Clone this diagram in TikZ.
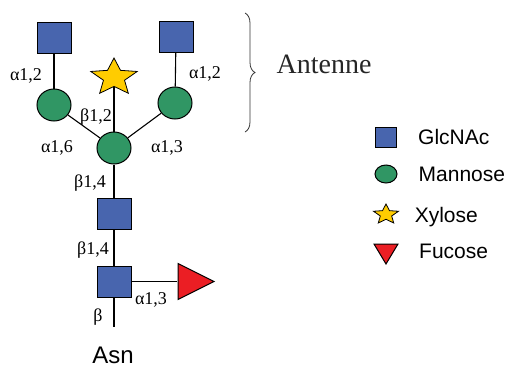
\documentclass[tikz,border=0pt]{standalone}
\usepackage{fontspec}
\setmainfont{Liberation Serif}
\newfontfamily\legendfont{Liberation Sans}
\usepackage{tikz}
\usetikzlibrary{shapes.geometric, positioning, decorations.pathreplacing}
\definecolor{glcblue}{RGB}{72,101,174}
\definecolor{mangreen}{RGB}{48,150,100}
\definecolor{xylyellow}{RGB}{255,204,0}
\definecolor{fucred}{RGB}{235,30,36}

\tikzset{
    glcnac/.style={draw=black, fill=glcblue, line width=1pt, inner sep=0pt,
        minimum width=34pt, minimum height=31pt},
    mannose/.style={ellipse, draw=black, fill=mangreen, line width=1pt, inner sep=0pt,
        minimum width=34pt, minimum height=32pt},
    xylose/.style={star, star points=5, star point ratio=2.2, draw=black, fill=xylyellow,
        line width=0.8pt, inner sep=0pt, xscale=1.25, transform shape},
    fucose/.style={isosceles triangle, isosceles triangle stretches, draw=black,
        fill=fucred, line width=1pt, inner sep=0pt},
    bond/.style={line width=1.1pt},
    linklbl/.style={font=\fontsize{18}{20}\selectfont, inner sep=0pt,
        text height=12pt, text depth=0pt},
    legtext/.style={font=\legendfont\fontsize{21}{24}\selectfont, inner sep=0pt,
        text height=15pt, text depth=0pt}
}

\begin{document}
\begin{tikzpicture}[x=1pt, y=-1pt]
\useasboundingbox (0,0) rectangle (509,368);

% residues
\node[glcnac] (gnA) at (54,38) {};
\node[glcnac] (gnB) at (176,37) {};
\node[mannose] (manA) at (54,105) {};
\node[mannose] (manB) at (175,103) {};
\node[xylose, minimum size=39pt] (xyl) at (114,77.5) {};
\node[mannose] (manC) at (114,148) {};
\node[glcnac] (gnC) at (114,213.5) {};
\node[glcnac] (gnD) at (114,281.5) {};
\node[fucose, minimum width=36pt, minimum height=36pt, anchor=lower side] (fuc) at (177.5,281.5) {};
\coordinate (asnend) at (114,327);

% bonds
\draw[bond] (gnA) -- (manA);
\draw[bond] (gnB) -- (manB);
\draw[bond] (manA) -- (manC);
\draw[bond] (manB) -- (manC);
\draw[bond] (xyl) -- (manC);
\draw[bond] (manC) -- (gnC);
\draw[bond] (gnC) -- (gnD);
\draw[bond] (gnD) -- (fuc);
\draw[bond] (gnD) -- (asnend);

% linkage labels
\node[linklbl] (lkA) at (26,74) {α1,2};
\node[linklbl] (lkB) at (205,72) {α1,2};
\node[linklbl] (lkC) at (96,115) {β1,2};
\node[linklbl] (lkD) at (57,146) {α1,6};
\node[linklbl] (lkE) at (167,146) {α1,3};
\node[linklbl] (lkF) at (90,181) {β1,4};
\node[linklbl] (lkG) at (93,248) {β1,4};
\node[linklbl] (lkH) at (151,298) {α1,3};
\node[linklbl] (lkI) at (98,315) {β};

\node[font=\legendfont\fontsize{24}{28}\selectfont, inner sep=0pt,
    text height=17pt, text depth=0pt] (asn) at (113,355) {Asn};

% antennae brace
\coordinate (brtop) at (245,13);
\coordinate (brbot) at (245,132);
\draw[black!80, line width=0.8pt, decorate, decoration={brace, amplitude=10pt}]
    (brtop) -- (brbot);
\node[font=\fontsize{28}{30}\selectfont, text=black!85, inner sep=0pt,
    text height=18.5pt, text depth=0pt] (ant) at (324,64) {Antenne};

% legend
\node[glcnac, minimum width=21pt, minimum height=20pt] (lgsq) at (386,137) {};
\node[mannose, minimum width=22pt, minimum height=18pt] (lgci) at (386,174) {};
\node[xylose, minimum size=21pt] (lgst) at (386,214.5) {};
\node[fucose, shape border rotate=270, minimum width=24pt, minimum height=20pt,
    anchor=lower side] (lgtr) at (386,243.5) {};
\node[legtext, right=21pt of lgsq] (txgl) {GlcNAc};
\node[legtext, right=21pt of lgci] (txma) {Mannose};
\node[legtext, right=20pt of lgst] (txxy) {Xylose};
\node[legtext, right=21pt of lgtr.center, xshift=12pt] (txfu) {Fucose};
\end{tikzpicture}
\end{document}
